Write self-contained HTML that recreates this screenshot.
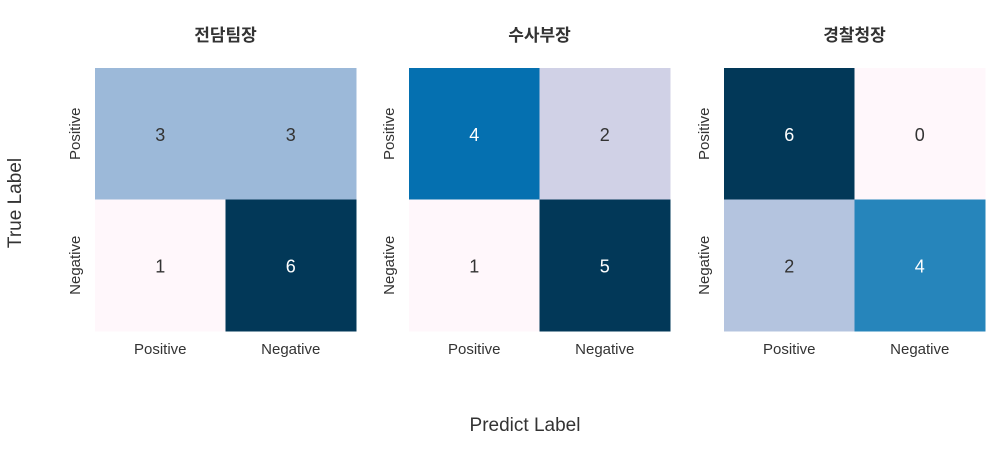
<!DOCTYPE html>
<html><head><meta charset="utf-8">
<style>
html,body{margin:0;padding:0;background:#fff;}
body{width:993px;height:444px;overflow:hidden;font-family:"Liberation Sans","Noto Sans CJK KR",sans-serif;}
</style></head>
<body>
<svg id="chart" width="993" height="444" xmlns="http://www.w3.org/2000/svg">
<text x="525" y="431" text-anchor="middle" font-size="19" fill="#333">Predict Label</text>
<text x="0" y="0" transform="translate(21,203) rotate(-90)" text-anchor="middle" font-size="19" fill="#333">True Label</text>
</svg>
<script>
const titles = ["전담팀장", "수사부장", "경찰청장"];
const labels = ["Positive", "Negative"];
const matrices = [[[3,3],[1,6]], [[4,2],[1,5]], [[6,0],[2,4]]];
const panelX = [95, 409, 724];
const top0 = 68, W = 261, H = 263;
const stops = ["#fff7fb","#ece7f2","#d0d1e6","#a6bddb","#74a9cf","#3690c0","#0570b0","#045a8d","#023858"];
function hex(c){return [1,3,5].map(i=>parseInt(c.substr(i,2),16));}
function cmap(t){
  const p=t*(stops.length-1), i=Math.min(Math.floor(p),stops.length-2), f=p-i;
  const a=hex(stops[i]), b=hex(stops[i+1]);
  return "rgb("+a.map((v,k)=>Math.round(v+(b[k]-v)*f)).join(",")+")";
}
const svg=document.getElementById('chart');
const NS="http://www.w3.org/2000/svg";
function mk(tag,attrs,txt){const e=document.createElementNS(NS,tag);for(const k in attrs)e.setAttribute(k,attrs[k]);if(txt!==undefined)e.textContent=txt;svg.appendChild(e);return e;}
matrices.forEach((m,p)=>{
  const x0=panelX[p], cw=W/2, ch=H/2;
  const flat=m.flat(), mn=Math.min(...flat), mx=Math.max(...flat);
  const t=mk('text',{x:x0+W/2,y:41,'text-anchor':'middle','font-size':17,'font-weight':'bold',fill:'#333'},titles[p]);
  
  
  for(let r=0;r<2;r++)for(let c=0;c<2;c++){
    const v=m[r][c], n=(v-mn)/(mx-mn||1);
    const rect=mk('rect',{x:x0+c*cw,y:top0+r*ch,width:cw+0.5,height:ch+0.5,fill:cmap(n)});
    
    
    const tx=mk('text',{x:x0+c*cw+cw/2,y:top0+r*ch+ch/2+7,'text-anchor':'middle','font-size':18,fill:n>0.5?'#fff':'#333'},String(v));
    
    
  }
  labels.forEach((l,i)=>{
    const xl=mk('text',{x:x0+i*cw+cw/2,y:354,'text-anchor':'middle','font-size':15,fill:'#333'},l);
    
    
    const cy=top0+i*ch+ch/2;
    const yl=mk('text',{x:0,y:0,transform:'translate('+(x0-15)+','+cy+') rotate(-90)','text-anchor':'middle','font-size':15,fill:'#333'},l);
    
    
  });
});
</script>
</body></html>
